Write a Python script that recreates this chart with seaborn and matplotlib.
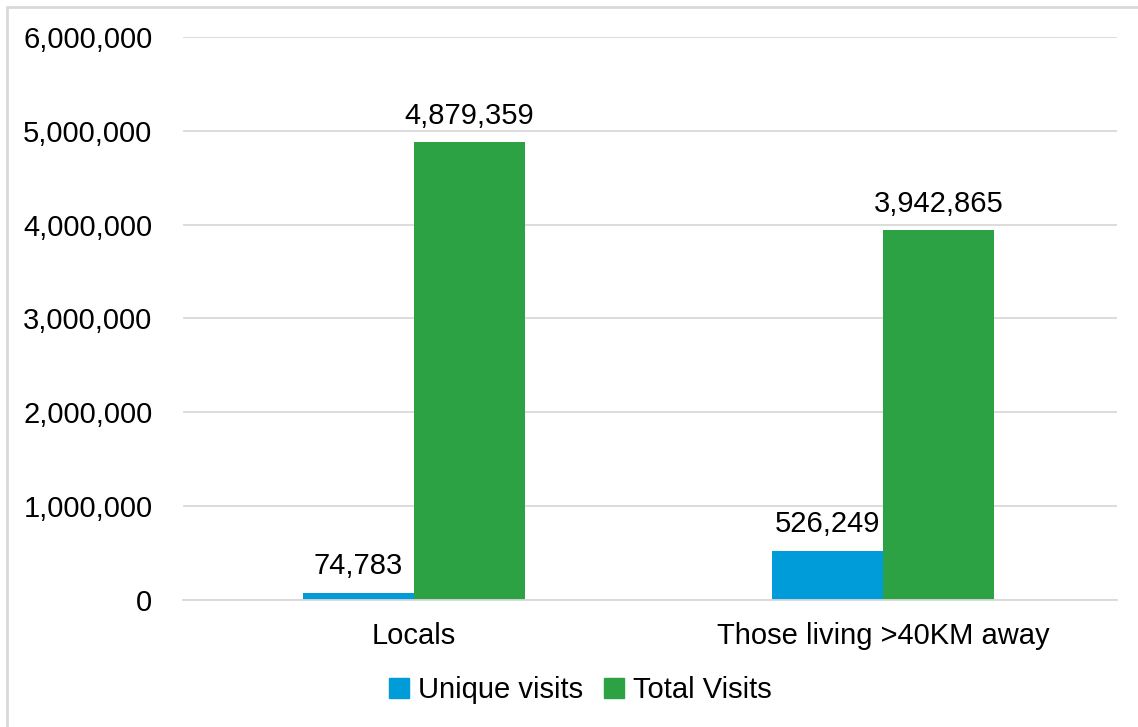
import numpy as np
import pandas as pd
import seaborn as sns
import matplotlib.pyplot as plt
from matplotlib.patches import Rectangle

categories = ['Locals', 'Those living >40KM away']
series = ['Unique visits', 'Total Visits']
unique_visits = [74783, 526249]
total_visits = [4879359, 3942865]
y_ticks = [0, 1000000, 2000000, 3000000, 4000000, 5000000, 6000000]

COLORS = ['#009BD9', '#2CA244']
FS = 21

df = pd.DataFrame({
    'category': categories * 2,
    'series': [series[0]] * len(categories) + [series[1]] * len(categories),
    'value': unique_visits + total_visits,
})

sns.set_style('white')
plt.rcParams['font.family'] = ['Liberation Sans', 'DejaVu Sans']
plt.rcParams['text.color'] = '#000000'
plt.rcParams['xtick.color'] = '#000000'
plt.rcParams['ytick.color'] = '#000000'

fig = plt.figure(figsize=(11.38, 7.27), dpi=100)
ax = fig.add_axes([0.1608, 0.1747, 0.8207, 0.7744])

ax.set_axisbelow(True)
ax.grid(axis='y', color='#D9D9D9', linewidth=1.3)

sns.barplot(data=df, x='category', y='value', hue='series', hue_order=series,
            order=categories, palette=COLORS, width=0.474, saturation=1,
            linewidth=0, legend=False, ax=ax)

for container in ax.containers:
    ax.bar_label(container, labels=[f'{v:,.0f}' for v in container.datavalues],
                 padding=9, fontsize=FS, color='#000000')

ax.set_ylim(0, 6000000)
ax.set_xlim(-0.4925, 1.499)
ax.set_yticks(y_ticks)
ax.set_yticklabels([f'{t:,}' for t in y_ticks])
ax.tick_params(axis='y', length=0, pad=22, labelsize=FS, labelcolor='#000000')
ax.tick_params(axis='x', length=0, pad=16, labelsize=FS, labelcolor='#000000')
ax.set_xlabel('')
ax.set_ylabel('')

for side in ['left', 'right', 'top']:
    ax.spines[side].set_visible(False)
ax.spines['bottom'].set_color('#D9D9D9')
ax.spines['bottom'].set_linewidth(1.3)

handles = [Rectangle((0, 0), 1, 1, color=c) for c in COLORS]
fig.legend(handles, series, loc='center', bbox_to_anchor=(0.510, 0.051), ncol=2,
           frameon=False, fontsize=FS, handlelength=0.7, handleheight=0.7,
           handletextpad=0.3, columnspacing=0.7)

# outer frame of the chart area
fig.patches.append(Rectangle((7 / 1138, -0.01), 1.1, 1 - 7 / 727 + 0.01,
                             transform=fig.transFigure, fill=False,
                             edgecolor='#D9D9D9', linewidth=2))

fig.savefig('out.png', dpi=100)
